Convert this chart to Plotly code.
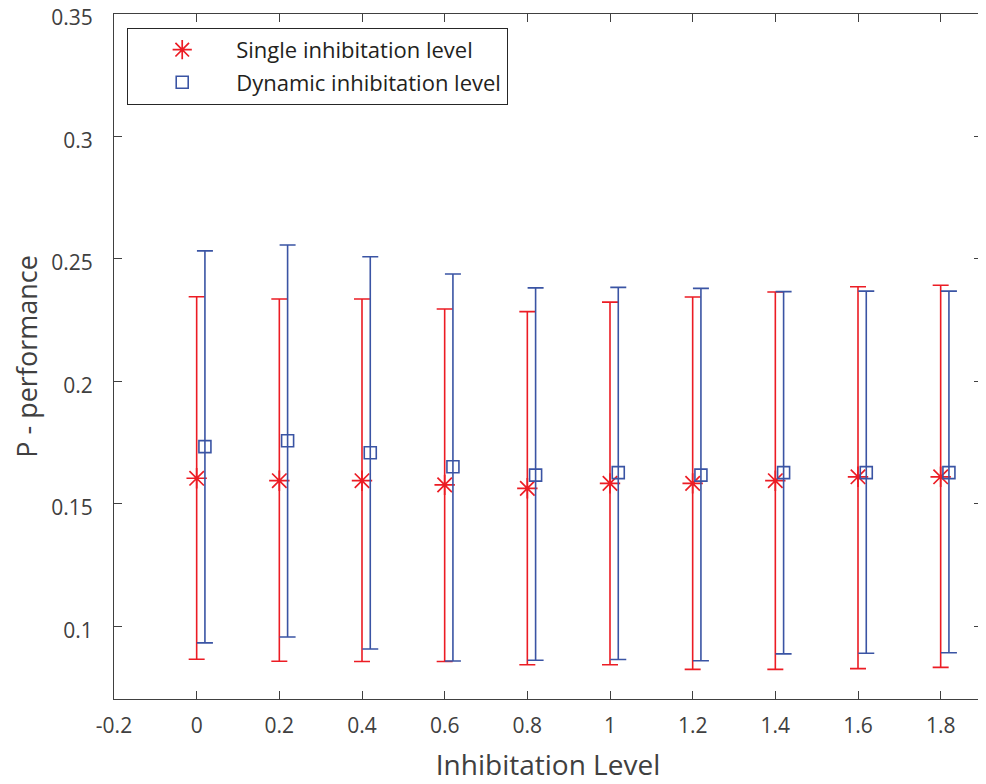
import plotly.graph_objects as go

levels = [0, 0.2, 0.4, 0.6, 0.8, 1.0, 1.2, 1.4, 1.6, 1.8]
dyn_offset = 0.02

single_mean = [0.1605, 0.1595, 0.1595, 0.1578, 0.1564, 0.1584, 0.1584, 0.1595, 0.1611, 0.1611]
single_upper = [0.2346, 0.2337, 0.2337, 0.2296, 0.2285, 0.2324, 0.2345, 0.2365, 0.2387, 0.2393]
single_lower = [0.0866, 0.0858, 0.0857, 0.0857, 0.0844, 0.0844, 0.0825, 0.0825, 0.0828, 0.0833]

dyn_mean = [0.1734, 0.1758, 0.1709, 0.1652, 0.1618, 0.1628, 0.1618, 0.1628, 0.1628, 0.1628]
dyn_upper = [0.2533, 0.2557, 0.2509, 0.2439, 0.2382, 0.2384, 0.2380, 0.2367, 0.2369, 0.2369]
dyn_lower = [0.0933, 0.0957, 0.0908, 0.0859, 0.0862, 0.0865, 0.0860, 0.0888, 0.0891, 0.0893]

x_ticks = [-0.2, 0, 0.2, 0.4, 0.6, 0.8, 1, 1.2, 1.4, 1.6, 1.8]
x_tick_text = ["-0.2", "0", "0.2", "0.4", "0.6", "0.8", "1", "1.2", "1.4", "1.6", "1.8"]
y_ticks = [0.1, 0.15, 0.2, 0.25, 0.3, 0.35]
y_tick_text = ["0.1", "0.15", "0.2", "0.25", "0.3", "0.35"]

RED = "#ec1c24"
BLUE = "#3a54a4"
AXIS = "#404040"
FONT = "Open Sans"

fig = go.Figure()
fig.add_trace(go.Scatter(
    x=levels, y=single_mean, mode="markers", name="Single inhibitation level",
    legendgroup="a",
    marker=dict(symbol="asterisk-open", size=17, color=RED, line=dict(color=RED, width=1.7)),
    error_y=dict(type="data", symmetric=False,
                 array=[u - m for u, m in zip(single_upper, single_mean)],
                 arrayminus=[m - l for m, l in zip(single_mean, single_lower)],
                 color=RED, thickness=1.6, width=8),
))
fig.add_trace(go.Scatter(
    x=[v + dyn_offset for v in levels], y=dyn_mean, mode="markers", name="Dynamic inhibitation level",
    legendgroup="b",
    marker=dict(symbol="square-open", size=12, color=BLUE, line=dict(color=BLUE, width=1.6)),
    error_y=dict(type="data", symmetric=False,
                 array=[u - m for u, m in zip(dyn_upper, dyn_mean)],
                 arrayminus=[m - l for m, l in zip(dyn_mean, dyn_lower)],
                 color=BLUE, thickness=1.6, width=8),
))

axis_common = dict(
    showline=True, linecolor=AXIS, linewidth=1.2, mirror="ticks",
    ticks="inside", ticklen=8, tickwidth=1.2, tickcolor=AXIS,
    showgrid=False, zeroline=False, automargin=False,
    ticklabeloverflow="allow",
    tickfont=dict(family=FONT, size=21, color=AXIS),
)

# page body adds an 8px offset; margins compensate for it
fig.update_layout(
    width=986, height=784,
    margin=dict(l=106, r=12, t=6, b=93),
    paper_bgcolor="white", plot_bgcolor="white",
    font=dict(family=FONT, color=AXIS),
    xaxis=dict(range=[-0.2, 1.9], tickvals=x_ticks, ticktext=x_tick_text,
               ticklabelstandoff=8,
               title=dict(text="Inhibitation Level", font=dict(family=FONT, size=28, color=AXIS), standoff=17),
               **axis_common),
    yaxis=dict(range=[0.0704, 0.35], tickvals=y_ticks, ticktext=y_tick_text,
               ticklabelstandoff=16, ticklabelshift=4,
               title=dict(text="P - performance", font=dict(family=FONT, size=27, color=AXIS), standoff=7),
               **axis_common),
    legend=dict(x=0.015, y=0.98, xanchor="left", yanchor="top",
                bgcolor="white", bordercolor="#262626", borderwidth=1.2,
                font=dict(family=FONT, size=22, color="#231f20"),
                itemwidth=98, tracegroupgap=1),
    showlegend=True,
)

fig.write_html("out.html")
